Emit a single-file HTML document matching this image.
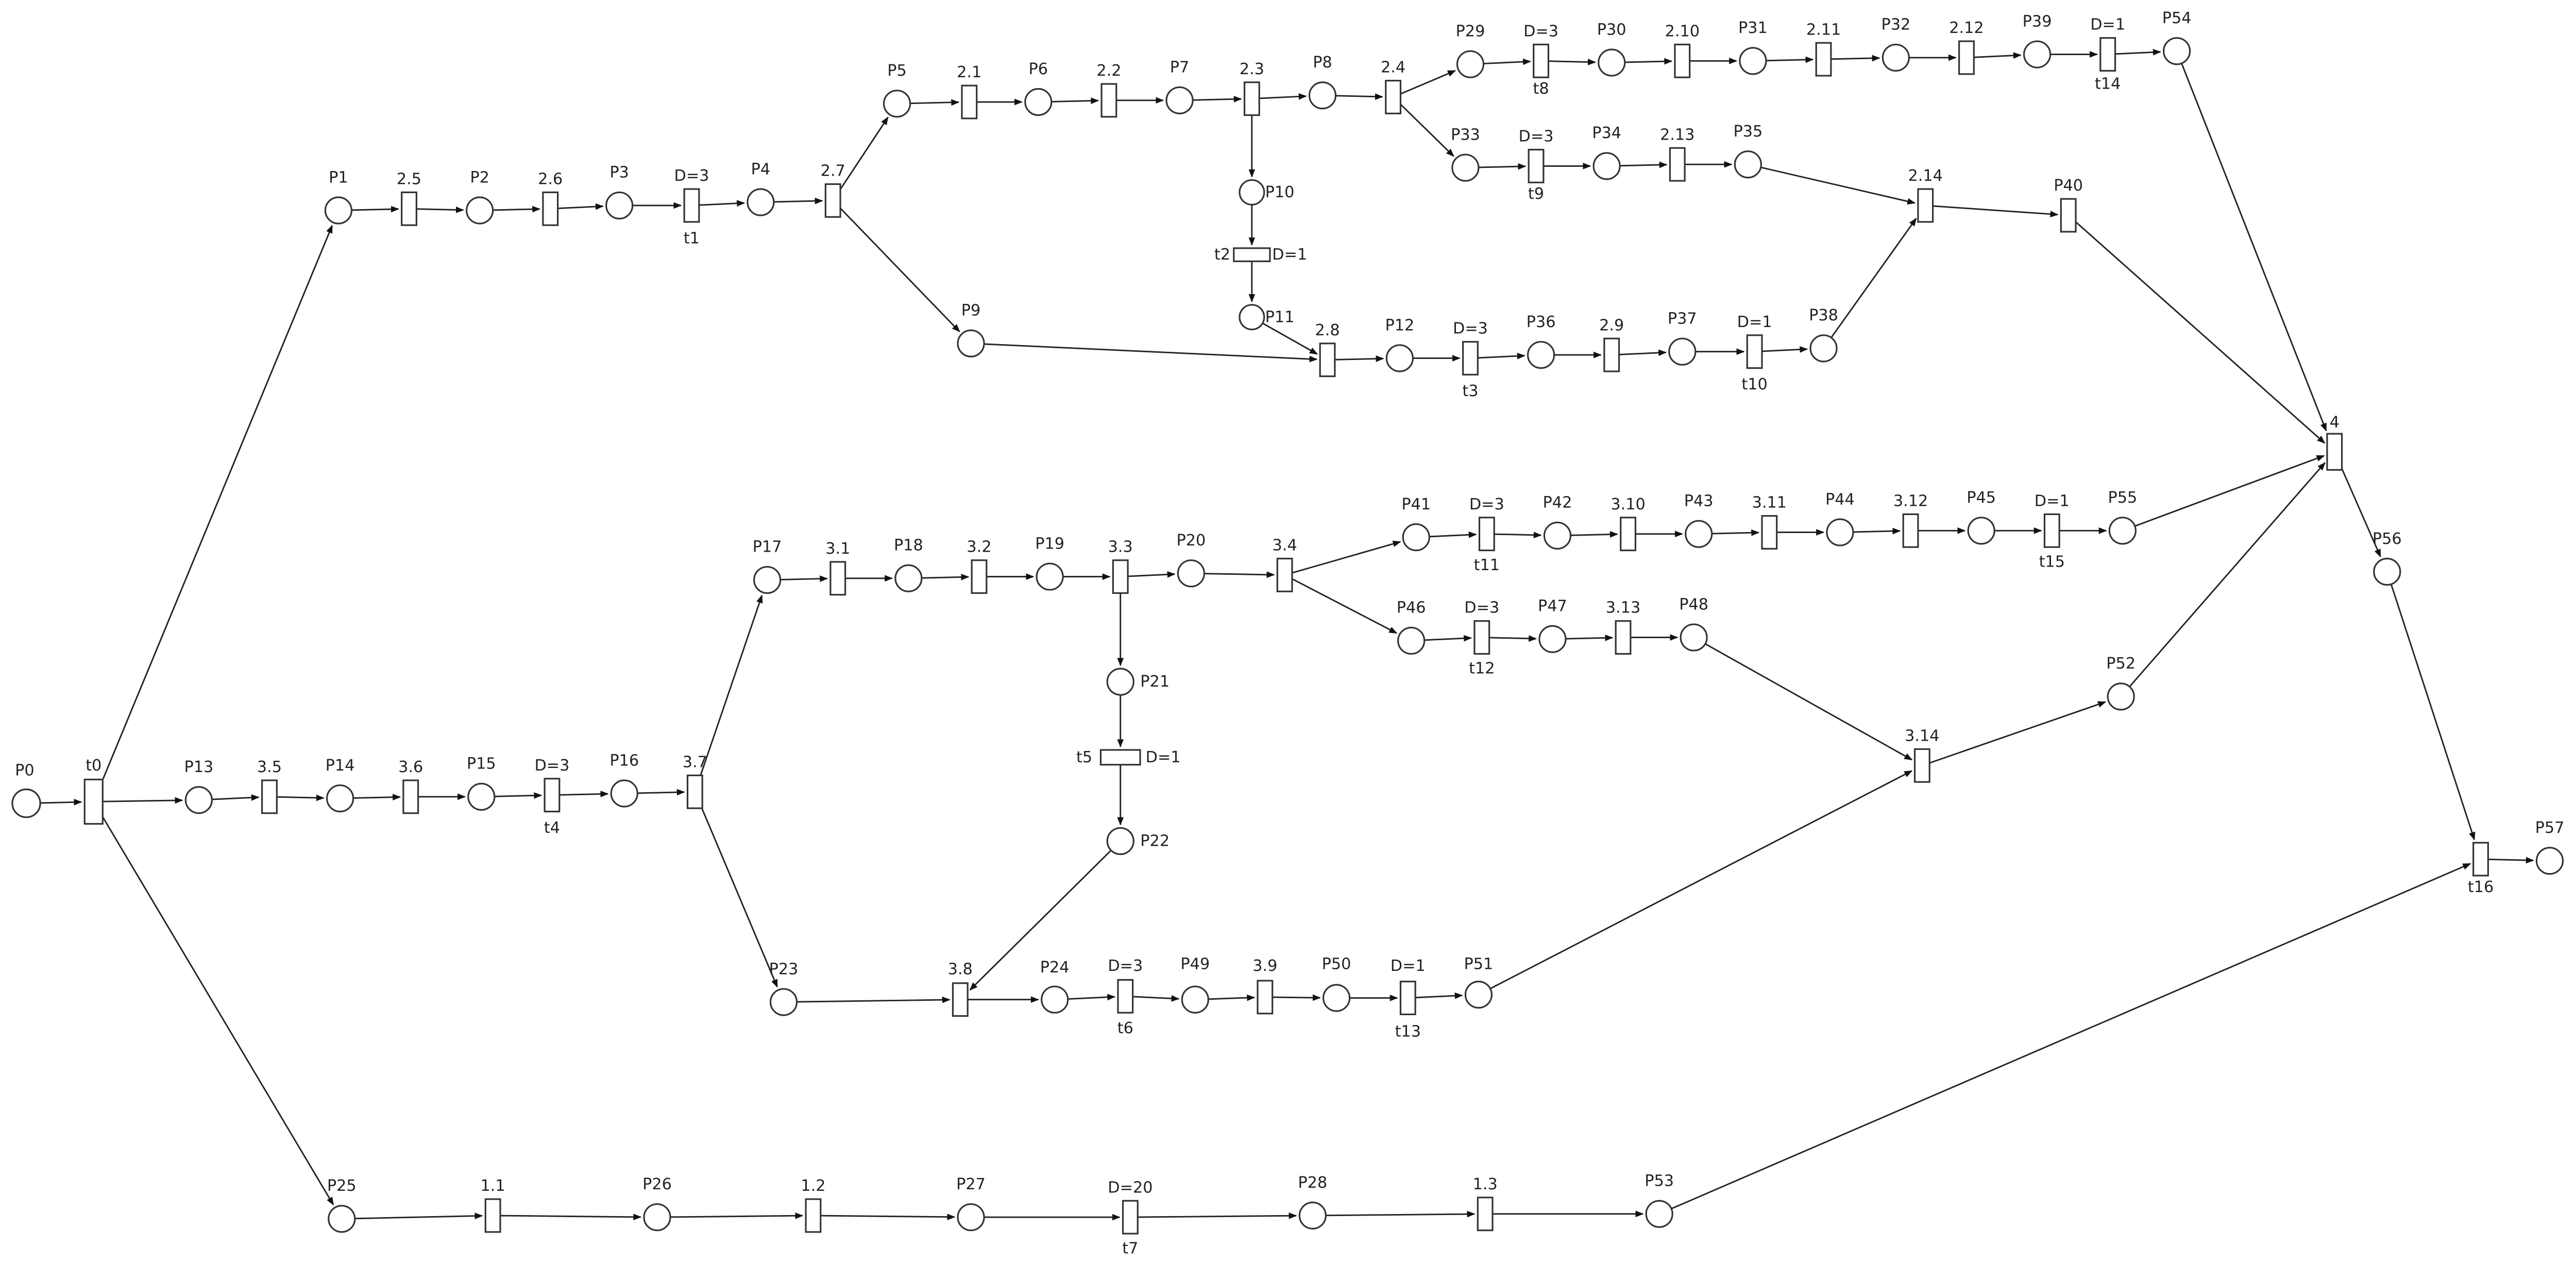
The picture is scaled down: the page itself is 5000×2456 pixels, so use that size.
<!DOCTYPE html>
<html><head><meta charset="utf-8"><style>
html,body{margin:0;padding:0;background:#fff;}
svg{display:block;}
text{font-family:"DejaVu Sans","Liberation Sans",sans-serif;font-size:9.5px;fill:#222;text-anchor:middle;}
circle,rect{fill:#fff;stroke:#333;stroke-width:1;}
line{stroke:#222;stroke-width:0.9;}
</style></head><body>
<svg id="s" width="5000" height="2456" viewBox="0 0 1568 770" xmlns="http://www.w3.org/2000/svg">
<defs><marker id="a" markerUnits="userSpaceOnUse" markerWidth="5" markerHeight="4" refX="4.5" refY="2" orient="auto"><path d="M0,0 L5,2 L0,4 z" fill="#111"/></marker></defs>
<g id="edges"></g>
<g id="nodes">
<circle id="P0" cx="16" cy="489" r="8.5"/><text x="15" y="472">P0</text>
<circle id="P13" cx="121" cy="487" r="8"/><text x="121" y="470">P13</text>
<circle id="P14" cx="207" cy="486" r="8"/><text x="207" y="469">P14</text>
<circle id="P15" cx="293" cy="485" r="8"/><text x="293" y="468">P15</text>
<circle id="P16" cx="380" cy="483" r="8"/><text x="380" y="466">P16</text>
<circle id="P1" cx="206" cy="128" r="8"/><text x="206" y="111">P1</text>
<circle id="P2" cx="292" cy="128" r="8"/><text x="292" y="111">P2</text>
<circle id="P3" cx="377" cy="125" r="8"/><text x="377" y="108">P3</text>
<circle id="P4" cx="463" cy="123" r="8"/><text x="463" y="106">P4</text>
<circle id="P5" cx="546" cy="63" r="8"/><text x="546" y="46">P5</text>
<circle id="P6" cx="632" cy="62" r="8"/><text x="632" y="45">P6</text>
<circle id="P7" cx="718" cy="61" r="8"/><text x="718" y="44">P7</text>
<circle id="P8" cx="805" cy="58" r="8"/><text x="805" y="41">P8</text>
<circle id="P29" cx="895" cy="39" r="8"/><text x="895" y="22">P29</text>
<circle id="P30" cx="981" cy="38" r="8"/><text x="981" y="21">P30</text>
<circle id="P31" cx="1067" cy="37" r="8"/><text x="1067" y="20">P31</text>
<circle id="P32" cx="1154" cy="35" r="8"/><text x="1154" y="18">P32</text>
<circle id="P39" cx="1240" cy="33" r="8"/><text x="1240" y="16">P39</text>
<circle id="P54" cx="1325" cy="31" r="8"/><text x="1325" y="14">P54</text>
<circle id="P33" cx="892" cy="102" r="8"/><text x="892" y="85">P33</text>
<circle id="P34" cx="978" cy="101" r="8"/><text x="978" y="84">P34</text>
<circle id="P35" cx="1064" cy="100" r="8"/><text x="1064" y="83">P35</text>
<circle id="P10" cx="762" cy="117" r="7.5"/><text x="779" y="120">P10</text>
<circle id="P11" cx="762" cy="193" r="7.5"/><text x="779" y="196">P11</text>
<circle id="P9" cx="591" cy="209" r="8"/><text x="591" y="192">P9</text>
<circle id="P12" cx="852" cy="218" r="8"/><text x="852" y="201">P12</text>
<circle id="P36" cx="938" cy="216" r="8"/><text x="938" y="199">P36</text>
<circle id="P37" cx="1024" cy="214" r="8"/><text x="1024" y="197">P37</text>
<circle id="P38" cx="1110" cy="212" r="8"/><text x="1110" y="195">P38</text>
<circle id="P17" cx="467" cy="353" r="8"/><text x="467" y="336">P17</text>
<circle id="P18" cx="553" cy="352" r="8"/><text x="553" y="335">P18</text>
<circle id="P19" cx="639" cy="351" r="8"/><text x="639" y="334">P19</text>
<circle id="P20" cx="725" cy="349" r="8"/><text x="725" y="332">P20</text>
<circle id="P41" cx="862" cy="327" r="8"/><text x="862" y="310">P41</text>
<circle id="P42" cx="948" cy="326" r="8"/><text x="948" y="309">P42</text>
<circle id="P43" cx="1034" cy="325" r="8"/><text x="1034" y="308">P43</text>
<circle id="P44" cx="1120" cy="324" r="8"/><text x="1120" y="307">P44</text>
<circle id="P45" cx="1206" cy="323" r="8"/><text x="1206" y="306">P45</text>
<circle id="P55" cx="1292" cy="323" r="8"/><text x="1292" y="306">P55</text>
<circle id="P46" cx="859" cy="390" r="8"/><text x="859" y="373">P46</text>
<circle id="P47" cx="945" cy="389" r="8"/><text x="945" y="372">P47</text>
<circle id="P48" cx="1031" cy="388" r="8"/><text x="1031" y="371">P48</text>
<circle id="P21" cx="682" cy="415" r="8"/><text x="703" y="418">P21</text>
<circle id="P22" cx="682" cy="512" r="8"/><text x="703" y="515">P22</text>
<circle id="P23" cx="477" cy="610" r="8"/><text x="477" y="593">P23</text>
<circle id="P24" cx="642" cy="608.5" r="8"/><text x="642" y="592">P24</text>
<circle id="P49" cx="727.5" cy="608.5" r="8"/><text x="727.5" y="590">P49</text>
<circle id="P50" cx="813.5" cy="607.5" r="8"/><text x="813.5" y="590">P50</text>
<circle id="P51" cx="900" cy="605.5" r="8"/><text x="900" y="590">P51</text>
<circle id="P52" cx="1291" cy="424" r="8"/><text x="1291" y="407">P52</text>
<circle id="P56" cx="1453" cy="348" r="8"/><text x="1453" y="331">P56</text>
<circle id="P57" cx="1552" cy="524" r="8"/><text x="1552" y="507">P57</text>
<circle id="P25" cx="208" cy="742" r="8"/><text x="208" y="725">P25</text>
<circle id="P26" cx="400" cy="741" r="8"/><text x="400" y="724">P26</text>
<circle id="P27" cx="591" cy="741" r="8"/><text x="591" y="724">P27</text>
<circle id="P28" cx="799" cy="740" r="8"/><text x="799" y="723">P28</text>
<circle id="P53" cx="1010" cy="739" r="8"/><text x="1010" y="722">P53</text>
<rect id="t0" x="51.5" y="474.5" width="11" height="27"/><text x="57" y="469">t0</text>
<rect id="T3.5" x="159.5" y="475" width="9" height="20"/><text x="164" y="470">3.5</text>
<rect id="T3.6" x="245.5" y="475" width="9" height="20"/><text x="250" y="470">3.6</text>
<rect id="t4" x="331.5" y="474" width="9" height="20"/><text x="336" y="469">D=3</text><text x="336" y="507">t4</text>
<rect id="T3.7" x="418.5" y="472" width="9" height="20"/><text x="423" y="467">3.7</text>
<rect id="T2.5" x="244.5" y="117" width="9" height="20"/><text x="249" y="112">2.5</text>
<rect id="T2.6" x="330.5" y="117" width="9" height="20"/><text x="335" y="112">2.6</text>
<rect id="t1" x="416.5" y="115" width="9" height="20"/><text x="421" y="110">D=3</text><text x="421" y="148">t1</text>
<rect id="T2.7" x="502.5" y="112" width="9" height="20"/><text x="507" y="107">2.7</text>
<rect id="T2.1" x="585.5" y="52" width="9" height="20"/><text x="590" y="47">2.1</text>
<rect id="T2.2" x="670.5" y="51" width="9" height="20"/><text x="675" y="46">2.2</text>
<rect id="T2.3" x="757.5" y="50" width="9" height="20"/><text x="762" y="45">2.3</text>
<rect id="T2.4" x="843.5" y="49" width="9" height="20"/><text x="848" y="44">2.4</text>
<rect id="t8" x="933.5" y="27" width="9" height="20"/><text x="938" y="22">D=3</text><text x="938" y="57">t8</text>
<rect id="T2.10" x="1019.5" y="27" width="9" height="20"/><text x="1024" y="22">2.10</text>
<rect id="T2.11" x="1105.5" y="26" width="9" height="20"/><text x="1110" y="21">2.11</text>
<rect id="T2.12" x="1192.5" y="25" width="9" height="20"/><text x="1197" y="20">2.12</text>
<rect id="t14" x="1278.5" y="23" width="9" height="20"/><text x="1283" y="18">D=1</text><text x="1283" y="54">t14</text>
<rect id="t9" x="930.5" y="91" width="9" height="20"/><text x="935" y="86">D=3</text><text x="935" y="121">t9</text>
<rect id="T2.13" x="1016.5" y="90" width="9" height="20"/><text x="1021" y="85">2.13</text>
<rect id="T2.14" x="1167.5" y="115" width="9" height="20"/><text x="1172" y="110">2.14</text>
<rect id="P40" x="1254.5" y="121" width="9" height="20"/><text x="1259" y="116">P40</text>
<rect id="t2" x="751" y="151" width="22" height="8"/><text x="744" y="158">t2</text><text x="785" y="158">D=1</text>
<rect id="T2.8" x="803.5" y="209" width="9" height="20"/><text x="808" y="204">2.8</text>
<rect id="t3" x="890.5" y="208" width="9" height="20"/><text x="895" y="203">D=3</text><text x="895" y="241">t3</text>
<rect id="T2.9" x="976.5" y="206" width="9" height="20"/><text x="981" y="201">2.9</text>
<rect id="t10" x="1063.5" y="204" width="9" height="20"/><text x="1068" y="199">D=1</text><text x="1068" y="237">t10</text>
<rect id="T4" x="1416.5" y="264" width="9" height="22"/><text x="1421" y="260">4</text>
<rect id="T3.1" x="505.5" y="342" width="9" height="20"/><text x="510" y="337">3.1</text>
<rect id="T3.2" x="591.5" y="341" width="9" height="20"/><text x="596" y="336">3.2</text>
<rect id="T3.3" x="677.5" y="341" width="9" height="20"/><text x="682" y="336">3.3</text>
<rect id="T3.4" x="777.5" y="340" width="9" height="20"/><text x="782" y="335">3.4</text>
<rect id="t11" x="900.5" y="315" width="9" height="20"/><text x="905" y="310">D=3</text><text x="905" y="347">t11</text>
<rect id="T3.10" x="986.5" y="315" width="9" height="20"/><text x="991" y="310">3.10</text>
<rect id="T3.11" x="1072.5" y="314" width="9" height="20"/><text x="1077" y="309">3.11</text>
<rect id="T3.12" x="1158.5" y="313" width="9" height="20"/><text x="1163" y="308">3.12</text>
<rect id="t15" x="1244.5" y="313" width="9" height="20"/><text x="1249" y="308">D=1</text><text x="1249" y="345">t15</text>
<rect id="t12" x="897.5" y="378" width="9" height="20"/><text x="902" y="373">D=3</text><text x="902" y="410">t12</text>
<rect id="T3.13" x="983.5" y="378" width="9" height="20"/><text x="988" y="373">3.13</text>
<rect id="t5" x="670" y="456.5" width="24" height="9"/><text x="660" y="464">t5</text><text x="708" y="464">D=1</text>
<rect id="T3.14" x="1165.5" y="456" width="9" height="20"/><text x="1170" y="451">3.14</text>
<rect id="T3.8" x="580" y="598.5" width="9" height="20"/><text x="584.5" y="593">3.8</text>
<rect id="t6" x="680.5" y="596.5" width="9" height="20"/><text x="685" y="591">D=3</text><text x="685" y="629">t6</text>
<rect id="T3.9" x="765.5" y="597" width="9" height="20"/><text x="770" y="591">3.9</text>
<rect id="t13" x="852.5" y="597.5" width="9" height="20"/><text x="857" y="591">D=1</text><text x="857" y="631">t13</text>
<rect id="t16" x="1505.5" y="513" width="9" height="20"/><text x="1510" y="543">t16</text>
<rect id="T1.1" x="295.5" y="730" width="9" height="20"/><text x="300" y="725">1.1</text>
<rect id="T1.2" x="490.5" y="730" width="9" height="20"/><text x="495" y="725">1.2</text>
<rect id="t7" x="683.5" y="731" width="9" height="20"/><text x="688" y="726">D=20</text><text x="688" y="763">t7</text>
<rect id="T1.3" x="899.5" y="729" width="9" height="20"/><text x="904" y="724">1.3</text>
</g>
</svg>
<script>
var E="P0>t0,t0>P1,t0>P13,t0>P25,P13>T3.5,T3.5>P14,P14>T3.6,T3.6>P15,P15>t4,t4>P16,P16>T3.7,T3.7>P17,T3.7>P23,P1>T2.5,T2.5>P2,P2>T2.6,T2.6>P3,P3>t1,t1>P4,P4>T2.7,T2.7>P5,T2.7>P9,P5>T2.1,T2.1>P6,P6>T2.2,T2.2>P7,P7>T2.3,T2.3>P8,T2.3>P10,P8>T2.4,T2.4>P29,T2.4>P33,P29>t8,t8>P30,P30>T2.10,T2.10>P31,P31>T2.11,T2.11>P32,P32>T2.12,T2.12>P39,P39>t14,t14>P54,P54>T4,P33>t9,t9>P34,P34>T2.13,T2.13>P35,P35>T2.14,T2.14>P40,P40>T4,P10>t2,t2>P11,P11>T2.8,P9>T2.8,T2.8>P12,P12>t3,t3>P36,P36>T2.9,T2.9>P37,P37>t10,t10>P38,P38>T2.14,P17>T3.1,T3.1>P18,P18>T3.2,T3.2>P19,P19>T3.3,T3.3>P20,T3.3>P21,P20>T3.4,T3.4>P41,T3.4>P46,P41>t11,t11>P42,P42>T3.10,T3.10>P43,P43>T3.11,T3.11>P44,P44>T3.12,T3.12>P45,P45>t15,t15>P55,P55>T4,P46>t12,t12>P47,P47>T3.13,T3.13>P48,P48>T3.14,T3.14>P52,P52>T4,P21>t5,t5>P22,P22>T3.8,P23>T3.8,T3.8>P24,P24>t6,t6>P49,P49>T3.9,T3.9>P50,P50>t13,t13>P51,P51>T3.14,T4>P56,P56>t16,t16>P57,P53>t16,P25>T1.1,T1.1>P26,P26>T1.2,T1.2>P27,P27>t7,t7>P28,P28>T1.3,T1.3>P53".split(",");
function info(id){var e=document.getElementById(id);
 if(e.tagName=="circle")return{c:1,x:+e.getAttribute("cx"),y:+e.getAttribute("cy"),r:+e.getAttribute("r")};
 var w=+e.getAttribute("width"),h=+e.getAttribute("height");
 return{c:0,x:+e.getAttribute("x")+w/2,y:+e.getAttribute("y")+h/2,hw:w/2,hh:h/2};}
function clip(n,dx,dy,gap){var L=Math.hypot(dx,dy),d;
 if(n.c)d=n.r;else d=Math.min(dx?n.hw/Math.abs(dx):1e9,dy?n.hh/Math.abs(dy):1e9)*L;
 d+=gap;return[n.x+dx/L*d,n.y+dy/L*d];}
var g=document.getElementById("edges"),ns="http://www.w3.org/2000/svg";
E.forEach(function(s){var p=s.split(">"),a=info(p[0]),b=info(p[1]);
 var dx=b.x-a.x,dy=b.y-a.y,s1=clip(a,dx,dy,0),s2=clip(b,-dx,-dy,2);
 var l=document.createElementNS(ns,"line");
 l.setAttribute("x1",s1[0]);l.setAttribute("y1",s1[1]);l.setAttribute("x2",s2[0]);l.setAttribute("y2",s2[1]);
 l.setAttribute("marker-end","url(#a)");g.appendChild(l);});
</script>
</body></html>
